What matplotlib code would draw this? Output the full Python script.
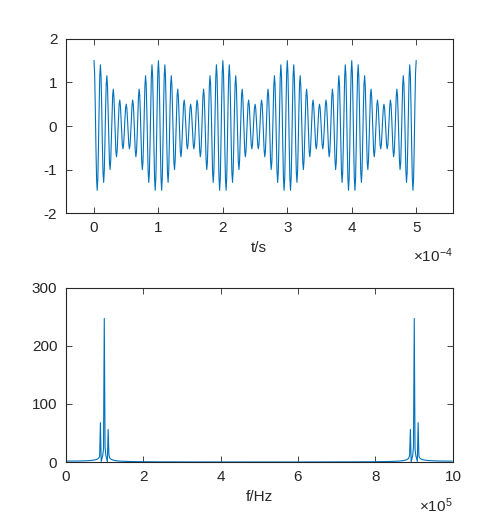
import numpy as np
import matplotlib
matplotlib.use("Agg")
import matplotlib.pyplot as plt

# --- signal parameters ---
sample_rate_hz = 1e6          # FFT axis spans 0 .. 1e6 Hz
duration_s = 5e-4             # time axis 0 .. 5e-4 s
carrier_hz = 1e5              # main spectral peak at 1e5 Hz
modulation_hz = 1e4           # envelope period 1e-4 s
modulation_index = 0.5        # envelope between 0.5 and 1.5

t = np.arange(0, duration_s + 1e-12, 1 / sample_rate_hz)
signal = (1 + modulation_index * np.cos(2 * np.pi * modulation_hz * t)) * np.cos(2 * np.pi * carrier_hz * t)
N = len(t)
spectrum = np.abs(np.fft.fft(signal))
freqs = np.arange(N) * sample_rate_hz / N

top_xticks = [0, 1, 2, 3, 4, 5]
top_yticks = [-2, -1, 0, 1, 2]
bot_xticks = [0, 2, 4, 6, 8, 10]
bot_yticks = [0, 100, 200, 300]

plt.rcParams['font.family'] = ['Liberation Sans', 'DejaVu Sans']
plt.rcParams['mathtext.fontset'] = 'custom'
plt.rcParams['mathtext.rm'] = 'Liberation Sans'
plt.rcParams['mathtext.it'] = 'Liberation Sans'

txt = '#262626'
line_c = '#0072BD'
fs = 11

fig = plt.figure(figsize=(5.01, 5.25), dpi=100)
ax1 = fig.add_axes([0.131, 0.594, 0.773, 0.332])
ax2 = fig.add_axes([0.131, 0.120, 0.773, 0.332])

def style(ax):
    for s in ax.spines.values():
        s.set_color(txt)
        s.set_linewidth(0.8)
    ax.tick_params(direction='in', length=4, width=0.6, colors=txt, labelsize=fs,
                   top=True, right=True, labelcolor=txt, pad=6)

ax1.plot(t * 1e4, signal, color=line_c, lw=0.8)
ax1.set_xlim(-0.44, 5.57)
ax1.set_ylim(-2, 2)
ax1.set_xticks(top_xticks)
ax1.set_yticks(top_yticks)
ax1.set_yticklabels([str(v) for v in top_yticks])
style(ax1)
ax1.set_xlabel('t/s', fontsize=fs, color=txt, labelpad=4)
ax1.text(1.0, -0.245, r'$\times10^{-4}$', transform=ax1.transAxes, ha='right', va='center',
         fontsize=fs, color=txt)

ax2.plot(freqs / 1e5, spectrum, color=line_c, lw=0.8)
ax2.set_xlim(0, 10)
ax2.set_ylim(0, 300)
ax2.set_xticks(bot_xticks)
ax2.set_yticks(bot_yticks)
style(ax2)
ax2.set_xlabel('f/Hz', fontsize=fs, color=txt, labelpad=4)
ax2.text(1.0, -0.25, r'$\times10^{5}$', transform=ax2.transAxes, ha='right', va='center',
         fontsize=fs, color=txt)

fig.savefig('out.png', dpi=100, facecolor='white')
